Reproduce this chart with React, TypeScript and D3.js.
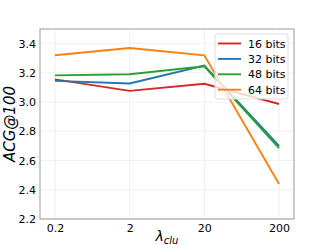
import React, { useRef, useEffect } from 'react';
import * as d3 from 'd3';

// tamanho da figura
const width = 327;
const height = 245;
const margin = { top: 29, right: 33, bottom: 26, left: 40 };

// dados
const lambdas = ['0.2', '2', '20', '200'];
const bits16 = [3.155, 3.077, 3.125, 2.987];
const bits32 = [3.145, 3.127, 3.25, 2.7];
const bits48 = [3.183, 3.19, 3.245, 2.685];
const bits64 = [3.32, 3.37, 3.32, 2.44];
const seriesNames = ['16 bits', '32 bits', '48 bits', '64 bits'];
const seriesColors = ['#d62728', '#1f77b4', '#2ca02c', '#ff7f0e'];
const yTicks = [2.2, 2.4, 2.6, 2.8, 3.0, 3.2, 3.4];

export default function App() {
    const svgRef = useRef<SVGSVGElement>(null);

    useEffect(() => {
        if (!svgRef.current) return;
        const root = d3.select(svgRef.current);
        root.selectAll('*').remove();

        const iw = width - margin.left - margin.right;
        const ih = height - margin.top - margin.bottom;
        const font = 'DejaVu Sans, sans-serif';

        const x = d3.scalePoint<string>().domain(lambdas).range([0, iw]).padding(0.2);
        const y = d3.scaleLinear().domain([2.2, 3.5]).range([ih, 0]);

        const g = root.append('g').attr('transform', `translate(${margin.left},${margin.top})`);

        // grade
        g.selectAll('.gx').data(lambdas).enter().append('line')
            .attr('x1', d => x(d)!).attr('x2', d => x(d)!)
            .attr('y1', 0).attr('y2', ih)
            .attr('stroke', '#ececec').attr('stroke-width', 0.8);
        g.selectAll('.gy').data(yTicks).enter().append('line')
            .attr('x1', 0).attr('x2', iw)
            .attr('y1', d => y(d)).attr('y2', d => y(d))
            .attr('stroke', '#ececec').attr('stroke-width', 0.8);

        // linhas
        const data = [bits16, bits32, bits48, bits64];
        const line = d3.line<number>()
            .x((_, i) => x(lambdas[i])!)
            .y(d => y(d));
        data.forEach((vals, i) => {
            g.append('path')
                .attr('d', line(vals))
                .attr('fill', 'none')
                .attr('stroke', seriesColors[i])
                .attr('stroke-width', 1.9);
        });

        // moldura
        g.append('rect')
            .attr('width', iw).attr('height', ih)
            .attr('fill', 'none').attr('stroke', '#9a9a9a').attr('stroke-width', 1);

        // eixo x
        const xAxis = g.append('g').attr('transform', `translate(0,${ih})`)
            .call(d3.axisBottom(x).tickSize(0).tickPadding(5));
        xAxis.select('.domain').remove();
        xAxis.selectAll('text').attr('font-family', font).attr('font-size', 11).attr('fill', '#000');

        // eixo y
        const yAxis = g.append('g')
            .call(d3.axisLeft(y).tickValues(yTicks).tickFormat(d3.format('.1f')).tickSize(0).tickPadding(4));
        yAxis.select('.domain').remove();
        yAxis.selectAll('text').attr('font-family', font).attr('font-size', 11).attr('fill', '#000');

        // rótulos
        root.append('text')
            .attr('transform', `translate(15,${margin.top + ih / 2}) rotate(-90)`)
            .attr('text-anchor', 'middle')
            .attr('font-family', font)
            .attr('font-style', 'italic')
            .attr('font-size', 15)
            .text('ACG@100');

        const xl = root.append('text')
            .attr('x', margin.left + iw / 2)
            .attr('y', 241)
            .attr('text-anchor', 'middle')
            .attr('font-family', font)
            .attr('font-style', 'italic')
            .attr('font-size', 14);
        xl.append('tspan').text('λ');
        xl.append('tspan').attr('font-size', 10).attr('dy', 3).text('clu');

        // legenda
        const lg = root.append('g').attr('transform', 'translate(215,34)');
        lg.append('rect')
            .attr('width', 73).attr('height', 65).attr('rx', 2)
            .attr('fill', 'rgba(255,255,255,0.8)').attr('stroke', '#dddddd');
        seriesNames.forEach((name, i) => {
            const yy = 9.5 + i * 15.4;
            lg.append('line')
                .attr('x1', 3).attr('x2', 26).attr('y1', yy).attr('y2', yy)
                .attr('stroke', seriesColors[i]).attr('stroke-width', 1.9);
            lg.append('text')
                .attr('x', 33).attr('y', yy + 4)
                .attr('font-family', font).attr('font-size', 11)
                .text(name);
        });
    }, []);

    return (
        <svg ref={svgRef} width={width} height={height}
            style={{ position: 'absolute', left: 0, top: 0, background: '#fff' }}></svg>
    );
}
